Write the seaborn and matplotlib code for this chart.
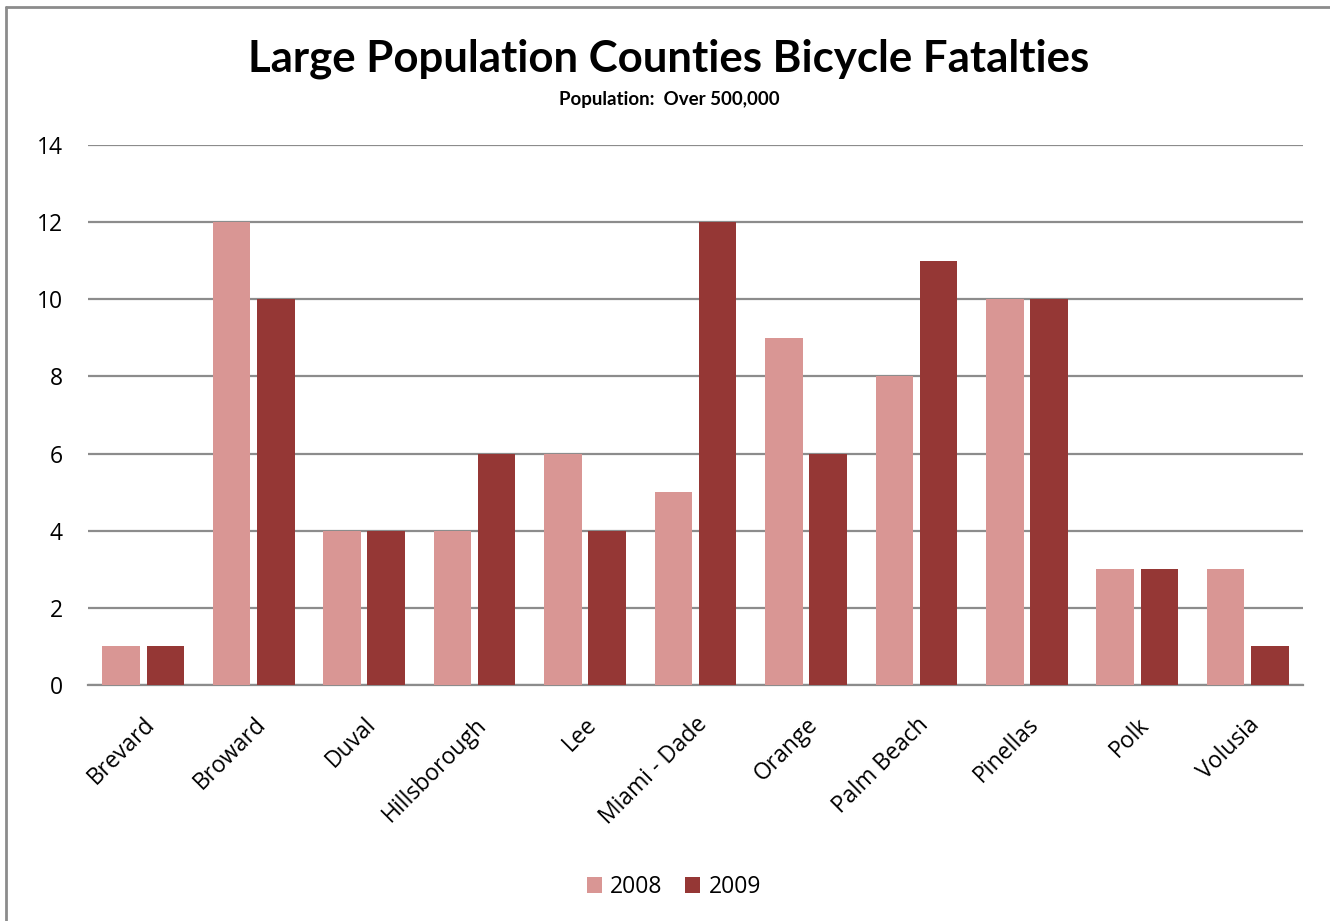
import matplotlib
matplotlib.use("Agg")
import matplotlib.pyplot as plt
import seaborn as sns
import pandas as pd
from matplotlib.patches import Patch
from matplotlib.lines import Line2D

counties = ["Brevard", "Broward", "Duval", "Hillsborough", "Lee", "Miami - Dade",
            "Orange", "Palm Beach", "Pinellas", "Polk", "Volusia"]
fatal_2008 = [1, 12, 4, 4, 6, 5, 9, 8, 10, 3, 3]
fatal_2009 = [1, 10, 4, 6, 4, 12, 6, 11, 10, 3, 1]
years = ["2008", "2009"]
colors = ["#D99694", "#953735"]
y_ticks = [0, 2, 4, 6, 8, 10, 12, 14]

df = pd.DataFrame({
    "County": counties * 2,
    "Year": [years[0]] * len(counties) + [years[1]] * len(counties),
    "Fatalities": fatal_2008 + fatal_2009,
})

sns.set_theme(style="white")
plt.rcParams["font.family"] = ["Open Sans", "DejaVu Sans"]
plt.rcParams["text.color"] = "black"
plt.rcParams["xtick.color"] = "black"
plt.rcParams["ytick.color"] = "black"

fig = plt.figure(figsize=(13.3, 9.21), dpi=100)
ax = fig.add_axes([88 / 1330, 1 - 685 / 921, (1303 - 88) / 1330, (685 - 145) / 921])

sns.barplot(data=df, x="County", y="Fatalities", hue="Year", palette=colors,
            width=0.8, gap=0.15, ax=ax, legend=False, zorder=3, linewidth=0,
            saturation=1)

ax.set_ylim(0, 14)
ax.set_xlim(-0.5, len(counties) - 0.5)
ax.set_yticks(y_ticks)
ax.set_yticklabels([str(v) for v in y_ticks], fontsize=16.5)
ax.yaxis.grid(True, color="#8c8c8c", linewidth=1.6, zorder=0)
ax.set_axisbelow(True)
for s in ["top", "right", "left"]:
    ax.spines[s].set_visible(False)
ax.spines["bottom"].set_color("#8c8c8c")
ax.spines["bottom"].set_linewidth(1.6)
ax.tick_params(axis="y", length=0, pad=18)
ax.tick_params(axis="x", length=0, pad=20)
ax.set_xticks(range(len(counties)))
ax.set_xticklabels(counties, rotation=45, ha="right", rotation_mode="anchor", fontsize=16.5)
ax.set_xlabel("")
ax.set_ylabel("")

fig.text(669 / 1330, 1 - 59 / 921, "Large Population Counties Bicycle Fatalties",
         ha="center", va="center", fontsize=31.5, fontweight="bold", color="black",
         family=["Lato", "DejaVu Sans"])
fig.text(669 / 1330, 1 - 100 / 921, "Population:  Over 500,000",
         ha="center", va="center", fontsize=13.5, fontweight="bold", color="black",
         family=["Lato", "DejaVu Sans"])

handles = [Patch(facecolor=c, edgecolor="none") for c in colors]
fig.legend(handles, years, loc="center", bbox_to_anchor=(674 / 1330, 1 - 887 / 921),
           ncol=2, frameon=False, fontsize=16.5, handlelength=0.65, handleheight=0.65,
           handletextpad=0.35, columnspacing=1.0)

fig.add_artist(Line2D([6 / 1330, 6 / 1330], [0, 1 - 7 / 921], transform=fig.transFigure,
                      color="#8c8c8c", linewidth=2))
fig.add_artist(Line2D([6 / 1330, 1], [1 - 7 / 921, 1 - 7 / 921], transform=fig.transFigure,
                      color="#8c8c8c", linewidth=2))

fig.savefig("out.png", dpi=100)
